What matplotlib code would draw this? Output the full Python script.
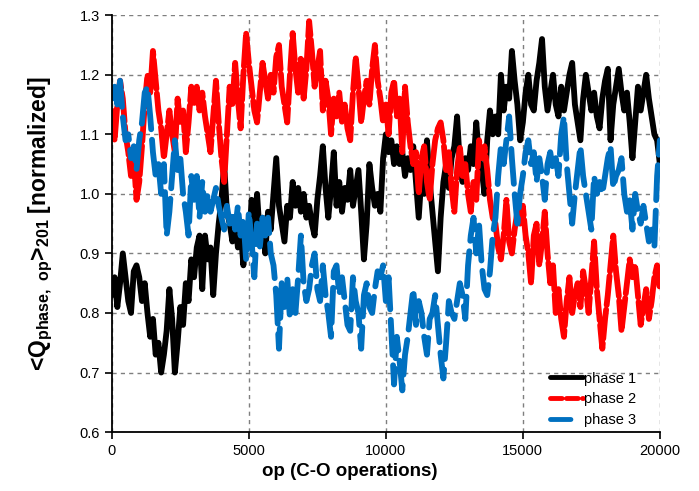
import numpy as np
import matplotlib

matplotlib.use("Agg")
import matplotlib.pyplot as plt

plt.rcParams["font.family"] = ["Liberation Sans", "DejaVu Sans"]
plt.rcParams["mathtext.fontset"] = "custom"
plt.rcParams["mathtext.rm"] = "Liberation Sans"
plt.rcParams["mathtext.bf"] = "Liberation Sans:bold"
plt.rcParams["mathtext.default"] = "bf"

# operations axis, one reading every 100 ops
ops = np.arange(0, 20001, 100)

phase1 = [
    0.83, 0.86, 0.81, 0.85, 0.90, 0.86, 0.82, 0.80, 0.87, 0.88,
    0.86, 0.82, 0.85, 0.80, 0.76, 0.79, 0.73, 0.75, 0.70, 0.73,
    0.77, 0.84, 0.79, 0.70, 0.75, 0.81, 0.78, 0.85, 0.82, 0.89,
    0.86, 0.91, 0.93, 0.84, 0.93, 0.89, 0.91, 0.83, 0.90, 0.95,
    0.99, 1.05, 0.97, 0.95, 0.92, 0.96, 0.91, 0.94, 0.88, 0.93,
    0.91, 0.99, 0.94, 1.00, 0.93, 0.96, 0.90, 0.97, 0.94, 1.00,
    1.06, 0.98, 0.95, 0.92, 0.98, 0.96, 1.02, 0.98, 1.01, 0.97,
    1.00, 0.96, 0.98, 0.95, 0.93, 0.99, 1.03, 1.08, 1.01, 0.96,
    1.01, 1.07, 0.98, 1.02, 0.97, 1.01, 0.99, 1.04, 0.98, 1.01,
    1.04, 0.97, 0.89, 0.95, 1.05, 1.01, 0.98, 1.00, 0.97, 1.06,
    1.10, 1.07, 1.09, 1.05, 1.08, 1.05, 1.07, 1.03, 1.06, 1.04,
    1.08, 1.02, 0.96, 1.03, 1.00, 1.09, 1.02, 0.97, 0.92, 0.87,
    0.96, 1.02, 1.05, 1.01, 1.06, 1.08, 1.13, 1.05, 1.02, 1.06,
    1.04, 1.08, 1.05, 1.12, 1.06, 1.04, 1.00, 1.09, 1.14, 1.10,
    1.13, 1.10, 1.20, 1.14, 1.18, 1.16, 1.24, 1.19, 1.15, 1.09,
    1.12, 1.17, 1.20, 1.15, 1.14, 1.19, 1.22, 1.26, 1.18, 1.14,
    1.17, 1.20, 1.15, 1.13, 1.18, 1.14, 1.17, 1.20, 1.22, 1.15,
    1.12, 1.09, 1.16, 1.20, 1.17, 1.14, 1.17, 1.13, 1.11, 1.16,
    1.19, 1.21, 1.09, 1.15, 1.18, 1.21, 1.17, 1.14, 1.17, 1.12,
    1.06, 1.12, 1.18, 1.14, 1.17, 1.20, 1.16, 1.13, 1.10, 1.09,
    1.05,
]

phase2 = [
    1.14, 1.09, 1.15, 1.19, 1.16, 1.10, 1.07, 1.03, 1.06, 0.99,
    1.02, 1.08, 1.15, 1.20, 1.17, 1.24, 1.19, 1.14, 1.11, 1.06,
    1.10, 1.14, 1.10, 1.07, 1.16, 1.12, 1.14, 1.07, 1.12, 1.18,
    1.15, 1.18, 1.14, 1.17, 1.13, 1.10, 1.07, 1.13, 1.19, 1.12,
    1.06, 1.02, 1.10, 1.18, 1.15, 1.22, 1.16, 1.11, 1.20, 1.27,
    1.22, 1.18, 1.14, 1.12, 1.17, 1.22, 1.19, 1.16, 1.20, 1.17,
    1.23, 1.25, 1.18, 1.15, 1.12, 1.20, 1.27, 1.21, 1.17, 1.23,
    1.16, 1.21, 1.29, 1.24, 1.18, 1.21, 1.24, 1.14, 1.19, 1.16,
    1.10, 1.16, 1.13, 1.17, 1.12, 1.15, 1.11, 1.09, 1.17, 1.23,
    1.18, 1.12, 1.16, 1.19, 1.15, 1.21, 1.25, 1.19, 1.16, 1.12,
    1.15, 1.10, 1.17, 1.19, 1.13, 1.16, 1.07, 1.18, 1.12, 1.08,
    1.05, 1.07, 1.00, 1.06, 1.08, 1.02, 0.99, 1.05, 1.09, 1.11,
    1.12, 1.09, 1.04, 1.07, 1.01, 0.97, 1.04, 1.08, 1.03, 1.05,
    1.00, 0.97, 1.02, 0.99, 1.09, 1.06, 1.08, 1.04, 0.99, 0.96,
    0.95, 0.91, 0.89, 0.93, 0.99, 0.92, 0.90, 0.94, 0.97, 0.95,
    0.98, 0.93, 0.90, 0.85, 0.93, 0.95, 0.88, 0.92, 0.97, 0.90,
    0.85, 0.88, 0.80, 0.84, 0.79, 0.76, 0.82, 0.86, 0.80, 0.83,
    0.85, 0.81, 0.87, 0.84, 0.80, 0.86, 0.92, 0.84, 0.79, 0.74,
    0.79, 0.83, 0.88, 0.93, 0.87, 0.83, 0.77, 0.81, 0.85, 0.89,
    0.86, 0.88, 0.83, 0.78, 0.81, 0.84, 0.79, 0.82, 0.86, 0.88,
    0.84,
]

phase3 = [
    1.16, 1.18, 1.15, 1.19, 1.13, 1.09, 1.10, 1.06, 1.08, 1.04,
    1.09, 1.12, 1.17, 1.18, 1.13, 1.07, 1.03, 1.05, 1.00, 1.05,
    0.93, 0.97, 1.03, 1.09, 1.04, 1.06, 1.00, 0.97, 0.93, 1.03,
    0.99, 1.03, 0.96, 1.02, 0.97, 1.00, 0.97, 0.99, 1.01, 0.98,
    0.96, 0.94, 0.98, 0.95, 0.97, 0.94, 0.98, 0.93, 0.96, 0.89,
    0.97, 0.92, 0.86, 0.95, 0.91, 0.96, 0.93, 0.96, 0.90, 0.88,
    0.83, 0.74, 0.85, 0.81, 0.86, 0.79, 0.84, 0.80, 0.86, 0.93,
    0.85, 0.82, 0.84, 0.88, 0.90, 0.84, 0.82, 0.88, 0.83, 0.80,
    0.76, 0.87, 0.88, 0.83, 0.86, 0.82, 0.78, 0.77, 0.86, 0.82,
    0.80, 0.74, 0.83, 0.85, 0.81, 0.80, 0.84, 0.87, 0.86, 0.88,
    0.82, 0.86, 0.77, 0.68, 0.76, 0.72, 0.67, 0.73, 0.76, 0.80,
    0.84, 0.78, 0.82, 0.80, 0.76, 0.73, 0.79, 0.80, 0.83, 0.78,
    0.73, 0.69, 0.75, 0.82, 0.80, 0.79, 0.82, 0.85, 0.83, 0.79,
    0.88, 0.93, 0.96, 0.90, 0.95, 0.88, 0.84, 0.83, 0.87, 0.93,
    0.96, 1.03, 1.08, 1.05, 1.09, 1.13, 1.06, 1.00, 0.95, 1.00,
    1.03, 1.07, 1.09, 1.05, 1.07, 1.02, 1.06, 1.03, 0.99, 1.05,
    1.07, 1.04, 1.06, 1.03, 1.10, 1.13, 1.05, 1.00, 0.95, 1.00,
    1.04, 1.08, 1.03, 1.00, 0.97, 0.94, 1.03, 1.00, 1.02, 1.00,
    1.03, 1.06, 1.08, 1.01, 1.03, 1.04, 1.06, 1.00, 0.97, 0.99,
    0.94, 1.00, 0.97, 0.95, 0.98, 0.95, 0.92, 0.94, 0.91, 1.03,
    1.09,
]


def plot_phases():
    fig = plt.figure(figsize=(6.99, 4.91), dpi=100)
    ax = fig.add_axes([0.160, 0.120, 0.784, 0.849])

    ax.plot(ops, phase1, color="black", lw=4.2, solid_capstyle="round",
            solid_joinstyle="round", label="phase 1")
    ax.plot(ops, phase2, color="#ff0000", lw=4.2, dashes=(5, 0.8),
            dash_capstyle="round", dash_joinstyle="round", label="phase 2")
    ax.plot(ops, phase3, color="#0070c0", lw=4.2, dashes=(6, 1.8),
            dash_capstyle="round", dash_joinstyle="round", label="phase 3")

    ax.set_xlim(0, 20000)
    ax.set_ylim(0.6, 1.3)
    ax.set_xticks([0, 5000, 10000, 15000, 20000])
    ax.set_yticks(np.arange(0.6, 1.31, 0.1))
    ax.set_yticklabels([f"{v:.1f}" for v in np.arange(0.6, 1.31, 0.1)])
    ax.tick_params(labelsize=10.5, direction="out", length=5, width=1.2)

    ax.grid(True, color="#7f7f7f", linestyle=(0, (3, 3)), linewidth=1)
    ax.set_axisbelow(True)
    for side in ("top", "right"):
        ax.spines[side].set_visible(False)
    for side in ("left", "bottom"):
        ax.spines[side].set_linewidth(1.3)

    ax.set_xlabel("op (C-O operations)", fontsize=13.5, fontweight="bold", labelpad=6)
    ax.xaxis.set_label_coords(0.434, -0.075)
    ax.set_ylabel(r"<Q$_{phase,\ op}$>$_{201}$ [normalized]",
                  fontsize=16.5, fontweight="bold", labelpad=18)

    leg = ax.legend(loc="lower right", bbox_to_anchor=(0.978, -0.015), frameon=False,
                    fontsize=10.5, handlelength=2.2, handletextpad=0.1,
                    labelspacing=0.45, borderpad=0.3)
    handles = leg.get_lines()
    for line in handles:
        line.set_linewidth(3.5)
    handles[1].set_dashes((2.4, 0.9))
    handles[2].set_dashes((4.2, 8.0))

    fig.savefig("out.png", dpi=100)


def main():
    plot_phases()


if __name__ == "__main__":
    main()
